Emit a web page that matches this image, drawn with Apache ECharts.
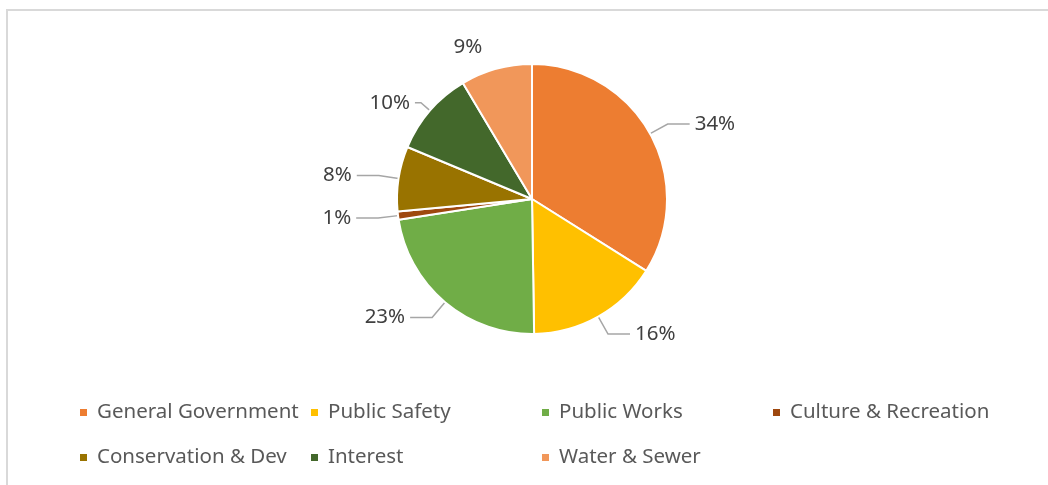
<!DOCTYPE html>
<html>
<head>
<meta charset="utf-8">
<script src="https://cdn.jsdelivr.net/npm/echarts@6/dist/echarts.min.js"></script>
<style>
  html,body{margin:0;padding:0;background:#fff}
  #chart{width:1048px;height:485px}
</style>
</head>
<body>
<div id="chart"></div>
<script>
// 各类支出占比(%)
const categories = ['General Government', 'Public Safety', 'Public Works', 'Culture & Recreation', 'Conservation & Dev', 'Interest', 'Water & Sewer']
const shares = [34.1, 15.9, 22.9, 1.0, 7.8, 10.2, 8.6]
const colors = ['#ED7D31', '#FFC000', '#70AD47', '#9E480E', '#997300', '#43682B', '#F1975A']

const font = '"Noto Sans", sans-serif'

// 引导线长度,个别扇区单独调
const lineLen = {
    'Interest': [12, 6],
    'Water & Sewer': [22, 3]
}

let chart = echarts.init(document.getElementById('chart'))
let option = {
    backgroundColor: '#fff',
    color: colors,
    animation: false,
    graphic: [{
        type: 'rect',
        shape: {x: 7, y: 10, width: 1100, height: 600},
        style: {fill: 'none', stroke: '#d9d9d9', lineWidth: 2},
        silent: true
    }],
    legend: {
        left: 78,
        top: 395,
        width: 940,
        padding: 0,
        itemGap: 10,
        itemWidth: 9,
        itemHeight: 9,
        icon: 'rect',
        data: categories,
        textStyle: {
            fontFamily: font,
            fontSize: 20.5,
            color: '#595959',
            width: 202,
            lineHeight: 35,
            padding: [0, 0, 0, 4]
        }
    },
    series: [{
        type: 'pie',
        center: [532, 199],
        radius: 135,
        startAngle: 90,
        clockwise: true,
        avoidLabelOverlap: false,
        itemStyle: {borderColor: '#fff', borderWidth: 2},
        label: {
            position: 'outside',
            fontFamily: font,
            fontSize: 20.5,
            color: '#404040',
            formatter: p => Math.round(p.value) + '%'
        },
        labelLine: {
            length: 20,
            length2: 22,
            lineStyle: {color: '#a6a6a6', width: 1.5}
        },
        data: categories.map((name, i) => {
            let d = {name: name, value: shares[i]}
            if (lineLen[name]) {
                d.labelLine = {length: lineLen[name][0], length2: lineLen[name][1]}
            }
            if (name === 'Water & Sewer') d.labelLine.show = false
            return d
        })
    }]
}
chart.setOption(option)
</script>
</body>
</html>
